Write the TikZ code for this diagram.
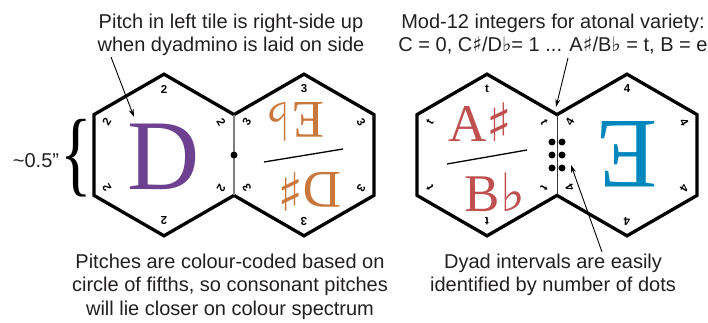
\documentclass[tikz,border=0pt]{standalone}
\usepackage{fontspec}
\setmainfont{Liberation Sans}
\newfontfamily\notefont{Liberation Serif}
\newfontfamily\musfont{DejaVu Sans}
\usepackage{graphicx}
\usetikzlibrary{arrows.meta}

\definecolor{notepurple}{HTML}{6E4190}
\definecolor{noteorange}{HTML}{C8783C}
\definecolor{notered}{HTML}{C0504F}
\definecolor{noteblue}{HTML}{0087BE}
\definecolor{captext}{HTML}{231F20}

\begin{document}
\begin{tikzpicture}[x=1pt,y=1pt,
    >={Stealth[length=8pt,width=5pt]},
    outline/.style={line width=3.3pt,line join=miter},
    edgenum/.style={font=\fontsize{11.5}{11.5}\selectfont\bfseries,inner sep=0pt},
    bignote/.style={font=\notefont\fontsize{100}{100}\selectfont,inner sep=0pt},
    smallnote/.style={font=\notefont\fontsize{53}{53}\selectfont,inner sep=0pt},
    caption/.style={font=\fontsize{20}{23.5}\selectfont,align=center,inner sep=0pt,text=captext}]
  \useasboundingbox (0,0) rectangle (708,322);

  % Mittelpunkte der Sechsecke
  \coordinate (l1) at (164,167);
  \coordinate (l2) at (304,167);
  \coordinate (r1) at (487,167);
  \coordinate (r2) at (627,167);

  % Umriss der beiden Dyadminos
  \foreach \cx in {164,487}
  {
    \draw[outline] (\cx+70,207.4) -- ++(-70,40.4) -- ++(-70,-40.4) -- ++(0,-80.8)
      -- ++(70,-40.4) -- ++(70,40.4) -- ++(70,-40.4) -- ++(70,40.4)
      -- ++(0,80.8) -- ++(-70,40.4) -- cycle;
  }
  \coordinate (ljtop) at (234,207.4);
  \coordinate (ljbot) at (234,126.6);
  \coordinate (rjtop) at (557,207.4);
  \coordinate (rjbot) at (557,126.6);
  \draw[gray,line width=1.2pt] (ljtop) -- (ljbot);
  \draw[black!80,line width=1pt] (rjtop) -- (rjbot);

  % Zahlen an den Ecken
  \foreach \a in {30,90,...,330}
  {
    \node[edgenum,rotate=\a-90] (l1n\a) at ([shift={(\a:66)}]l1) {2};
    \node[edgenum,rotate=\a-90] (l2n\a) at ([shift={(\a:66)}]l2) {3};
    \node[edgenum,rotate=\a-90] (r1n\a) at ([shift={(\a:66)}]r1) {t};
    \node[edgenum,rotate=\a-90] (r2n\a) at ([shift={(\a:66)}]r2) {4};
  }

  % Tonnamen
  \node[bignote,text=notepurple] (dnote) at (164,165) {D};
  \node[smallnote,text=noteorange,rotate=180] (ebnote) at (295,202) {E\hspace{1pt}{\musfont\smash{♭}}};
  \node[smallnote,text=noteorange,rotate=180] (dsnote) at (310,132) {D{\musfont\smash{♯}}};
  \coordinate (lbar1) at (264,160);
  \coordinate (lbar2) at (343,173);
  \draw[line width=1.3pt] (lbar1) -- (lbar2);
  \node[smallnote,text=notered] (asnote) at (480,197.5) {A{\musfont\smash{♯}}};
  \node[smallnote,text=notered] (bbnote) at (495,128) {B\hspace{1pt}{\musfont\smash{♭}}};
  \coordinate (rbar1) at (447,158);
  \coordinate (rbar2) at (527,172);
  \draw[line width=1.3pt] (rbar1) -- (rbar2);
  \node[bignote,text=noteblue,rotate=180] (enote) at (627,168) {E};

  % Punkte fuer das Intervall
  \fill (234,167) circle (3.5pt);
  \foreach \dx in {552,562}
    \foreach \dy in {180,167,154}
      \fill (\dx,\dy) circle (3.5pt);

  % Beschriftungen
  \node[caption,anchor=north] (pitchtxt) at (231,308.3)
    {Pitch in left tile is right-side up\\when dyadmino is laid on side};
  \node[caption,anchor=north] (modtxt) at (553,308.3)
    {Mod-12 integers for atonal variety:\\C = 0, C{\musfont♯}/D{\musfont♭}= 1 ... A{\musfont♯}/B{\musfont♭} = t, B = e};
  \node[caption,anchor=north] (colourtxt) at (230,68.3)
    {Pitches are colour-coded based on\\circle of fifths, so consonant pitches\\will lie closer on colour spectrum};
  \node[caption,anchor=north] (dyadtxt) at (553,68.3)
    {Dyad intervals are easily\\identified by number of dots};
  \node[caption,anchor=base] (sizetxt) at (36,155) {\textasciitilde0.5”};
  \node[inner sep=0pt] (brace) at (76,164)
    {\scalebox{0.7}[1]{\notefont\fontsize{94}{94}\selectfont\{}};

  % Pfeile
  \coordinate (pitchtail) at (111,265);
  \coordinate (pitchtip) at (134,205);
  \coordinate (modtail) at (568,264);
  \coordinate (modtip) at (556,215);
  \coordinate (dyadtail) at (602,70);
  \coordinate (dyadtip) at (571,157);
  \draw[->,line width=0.9pt] (pitchtail) -- (pitchtip);
  \draw[->,line width=0.9pt] (modtail) -- (modtip);
  \draw[->,line width=0.9pt] (dyadtail) -- (dyadtip);
\end{tikzpicture}
\end{document}
